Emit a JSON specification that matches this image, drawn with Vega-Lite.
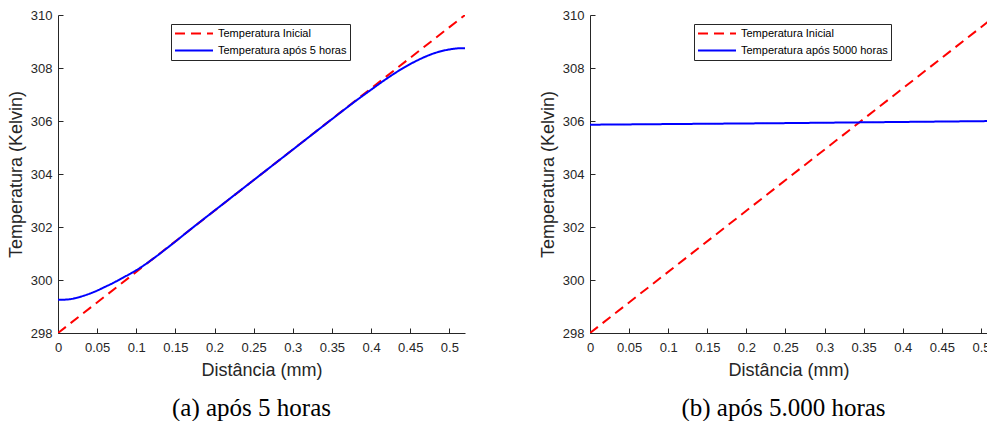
{
  "$schema": "https://vega.github.io/schema/vega-lite/v6.json",
  "padding": {"left": 7, "top": 9, "right": -3, "bottom": 0},
  "background": "white",
  "spacing": 74,
  "config": {
    "view": {"stroke": null},
    "axis": {"domainColor": "#262626", "tickColor": "#262626", "labelColor": "#262626", "titleColor": "#262626", "labelFont": "Liberation Sans", "titleFont": "Liberation Sans", "labelFontSize": 13, "titleFontSize": 18, "titleFontWeight": "normal", "grid": false, "tickSize": -5, "domainWidth": 1, "tickWidth": 1, "labelFlush": false, "labelOverlap": false},
    "axisX": {"labelPadding": 13, "titlePadding": 7},
    "axisY": {"labelPadding": 11, "titlePadding": 5},
    "legend": {"fillColor": "white", "strokeColor": "#262626", "padding": 3, "rowPadding": 4, "symbolType": "stroke", "symbolSize": 1444, "symbolStrokeWidth": 2, "clipHeight": 13, "labelFont": "Liberation Sans", "labelFontSize": 11, "labelColor": "black", "labelOffset": 4, "labelLimit": 0, "cornerRadius": 0}
  },
  "resolve": {"scale": {"color": "independent", "strokeDash": "independent"}, "legend": {"color": "independent", "strokeDash": "independent"}},
  "hconcat": [
    {
      "width": 407,
      "height": 318,
      "title": {"text": "(a) após 5 horas", "orient": "bottom", "frame": "group", "anchor": "middle", "dx": -10, "font": "Liberation Serif", "fontSize": 25, "fontWeight": "normal", "color": "black", "offset": 17},
      "data": {"values": [
        {"x": 0, "T": 298, "s": "Temperatura Inicial"},
        {"x": 0.52, "T": 310, "s": "Temperatura Inicial"},
        {"x": 0, "T": 299.25, "s": "Temperatura após 5 horas"},
        {"x": 0.01, "T": 299.26, "s": "Temperatura após 5 horas"},
        {"x": 0.02, "T": 299.3, "s": "Temperatura após 5 horas"},
        {"x": 0.03, "T": 299.38, "s": "Temperatura após 5 horas"},
        {"x": 0.04, "T": 299.48, "s": "Temperatura após 5 horas"},
        {"x": 0.05, "T": 299.6, "s": "Temperatura após 5 horas"},
        {"x": 0.06, "T": 299.74, "s": "Temperatura após 5 horas"},
        {"x": 0.07, "T": 299.88, "s": "Temperatura após 5 horas"},
        {"x": 0.08, "T": 300.04, "s": "Temperatura após 5 horas"},
        {"x": 0.09, "T": 300.2, "s": "Temperatura após 5 horas"},
        {"x": 0.1, "T": 300.37, "s": "Temperatura após 5 horas"},
        {"x": 0.11, "T": 300.56, "s": "Temperatura após 5 horas"},
        {"x": 0.12, "T": 300.77, "s": "Temperatura após 5 horas"},
        {"x": 0.13, "T": 300.99, "s": "Temperatura após 5 horas"},
        {"x": 0.14, "T": 301.22, "s": "Temperatura após 5 horas"},
        {"x": 0.15, "T": 301.45, "s": "Temperatura após 5 horas"},
        {"x": 0.16, "T": 301.69, "s": "Temperatura após 5 horas"},
        {"x": 0.2, "T": 302.62, "s": "Temperatura após 5 horas"},
        {"x": 0.25, "T": 303.77, "s": "Temperatura após 5 horas"},
        {"x": 0.3, "T": 304.92, "s": "Temperatura após 5 horas"},
        {"x": 0.35, "T": 306.07, "s": "Temperatura após 5 horas"},
        {"x": 0.38, "T": 306.75, "s": "Temperatura após 5 horas"},
        {"x": 0.4, "T": 307.18, "s": "Temperatura após 5 horas"},
        {"x": 0.42, "T": 307.6, "s": "Temperatura após 5 horas"},
        {"x": 0.44, "T": 307.98, "s": "Temperatura após 5 horas"},
        {"x": 0.46, "T": 308.3, "s": "Temperatura após 5 horas"},
        {"x": 0.48, "T": 308.55, "s": "Temperatura após 5 horas"},
        {"x": 0.5, "T": 308.7, "s": "Temperatura após 5 horas"},
        {"x": 0.51, "T": 308.74, "s": "Temperatura após 5 horas"},
        {"x": 0.52, "T": 308.75, "s": "Temperatura após 5 horas"}
      ]},
      "mark": {"type": "line", "strokeWidth": 2, "clip": true, "interpolate": "monotone"},
      "encoding": {
        "x": {"field": "x", "type": "quantitative", "scale": {"domain": [0, 0.52], "nice": false, "zero": false}, "axis": {"values": [0, 0.05, 0.1, 0.15, 0.2, 0.25, 0.3, 0.35, 0.4, 0.45, 0.5], "format": ".2~f", "title": "Distância (mm)"}},
        "y": {"field": "T", "type": "quantitative", "scale": {"domain": [298, 310], "nice": false, "zero": false}, "axis": {"values": [298, 300, 302, 304, 306, 308, 310], "title": "Temperatura (Kelvin)"}},
        "color": {"field": "s", "type": "nominal", "scale": {"domain": ["Temperatura Inicial", "Temperatura após 5 horas"], "range": ["#FF0000", "#0000FF"]}, "legend": {"title": null, "orient": "none", "legendX": 113, "legendY": 9}},
        "strokeDash": {"field": "s", "type": "nominal", "scale": {"domain": ["Temperatura Inicial", "Temperatura após 5 horas"], "range": [[10, 6], [1, 0]]}, "legend": {"title": null, "orient": "none", "legendX": 113, "legendY": 9}}
      }
    },
    {
      "width": 397,
      "height": 318,
      "title": {"text": "(b) após 5.000 horas", "orient": "bottom", "frame": "group", "anchor": "middle", "dx": -5, "font": "Liberation Serif", "fontSize": 25, "fontWeight": "normal", "color": "black", "offset": 17},
      "data": {"values": [
        {"x": 0, "T": 298, "s": "Temperatura Inicial"},
        {"x": 0.52, "T": 310, "s": "Temperatura Inicial"},
        {"x": 0, "T": 305.86, "s": "Temperatura após 5000 horas"},
        {"x": 0.25, "T": 305.92, "s": "Temperatura após 5000 horas"},
        {"x": 0.52, "T": 306.0, "s": "Temperatura após 5000 horas"}
      ]},
      "mark": {"type": "line", "strokeWidth": 2, "clip": true},
      "encoding": {
        "x": {"field": "x", "type": "quantitative", "scale": {"domain": [0, 0.5077], "nice": false, "zero": false}, "axis": {"values": [0, 0.05, 0.1, 0.15, 0.2, 0.25, 0.3, 0.35, 0.4, 0.45, 0.5], "format": ".2~f", "title": "Distância (mm)"}},
        "y": {"field": "T", "type": "quantitative", "scale": {"domain": [298, 310], "nice": false, "zero": false}, "axis": {"values": [298, 300, 302, 304, 306, 308, 310], "title": "Temperatura (Kelvin)"}},
        "color": {"field": "s", "type": "nominal", "scale": {"domain": ["Temperatura Inicial", "Temperatura após 5000 horas"], "range": ["#FF0000", "#0000FF"]}, "legend": {"title": null, "orient": "none", "legendX": 104, "legendY": 9}},
        "strokeDash": {"field": "s", "type": "nominal", "scale": {"domain": ["Temperatura Inicial", "Temperatura após 5000 horas"], "range": [[10, 6], [1, 0]]}, "legend": {"title": null, "orient": "none", "legendX": 104, "legendY": 9}}
      }
    }
  ]
}
